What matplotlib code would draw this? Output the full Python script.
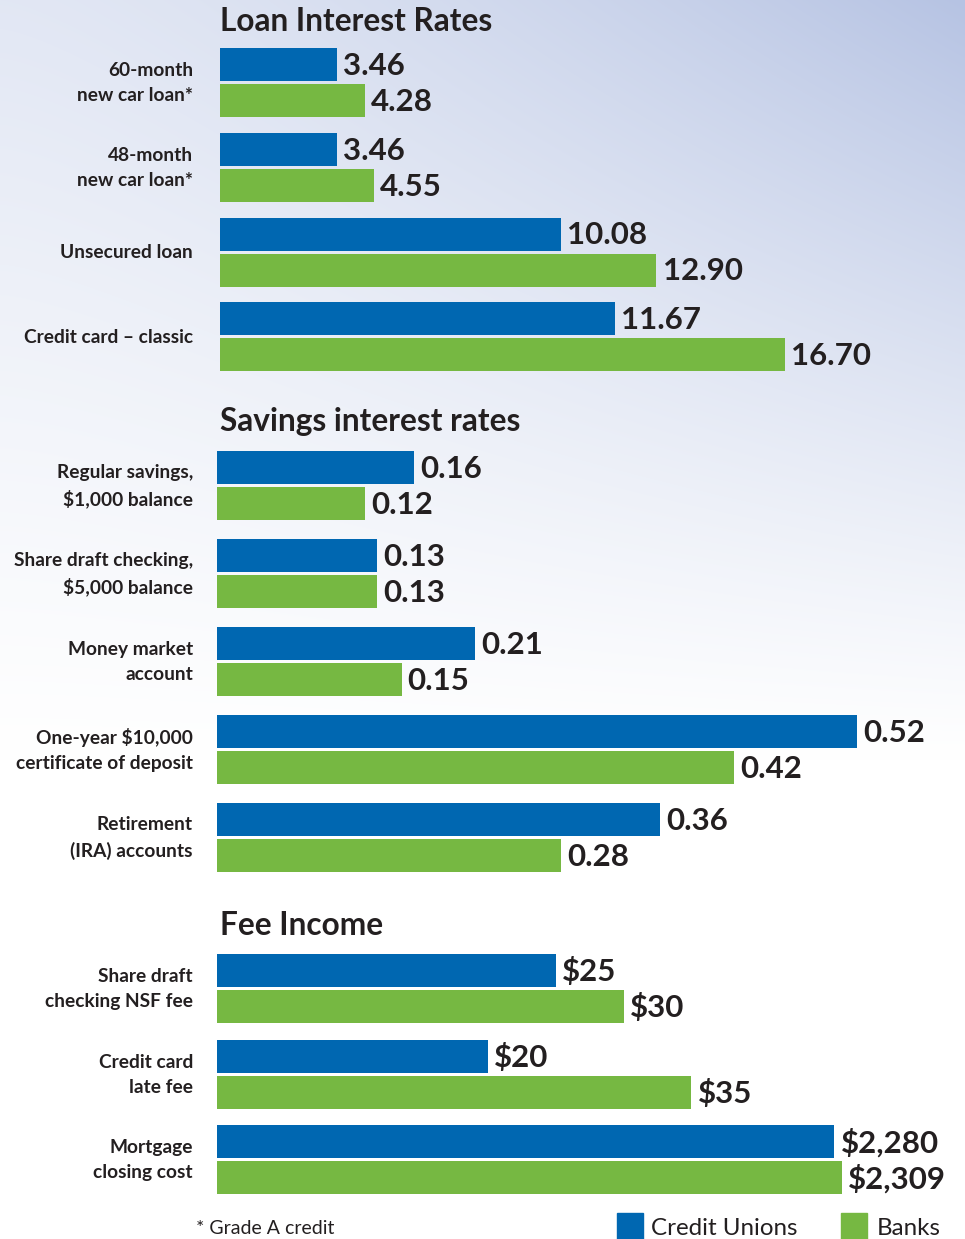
import numpy as np
import matplotlib
matplotlib.use("Agg")
import matplotlib.pyplot as plt

# ---------------- data ----------------
loan_labels = ["60-month\nnew car loan*", "48-month\nnew car loan*",
               "Unsecured loan", "Credit card – classic"]
loan_cu = [3.46, 3.46, 10.08, 11.67]
loan_bank = [4.28, 4.55, 12.90, 16.70]

sav_labels = ["Regular savings,\n\\$1,000 balance", "Share draft checking,\n\\$5,000 balance",
              "Money market\naccount", "One-year \\$10,000\ncertificate of deposit",
              "Retirement\n(IRA) accounts"]
sav_cu = [0.16, 0.13, 0.21, 0.52, 0.36]
sav_bank = [0.12, 0.13, 0.15, 0.42, 0.28]

fee_labels = ["Share draft\nchecking NSF fee", "Credit card\nlate fee"]
fee_cu = [25, 20]
fee_bank = [30, 35]

mort_labels = ["Mortgage\nclosing cost"]
mort_cu = [2280]
mort_bank = [2309]

titles = ["Loan Interest Rates", "Savings interest rates", "Fee Income"]
series_names = ["Credit Unions", "Banks"]
footnote = "* Grade A credit"

# ---------------- style ----------------
W, H, DPI = 965, 1239, 100
BLUE = "#0067b1"
GREEN = "#76b842"
TXT = "#231f20"
FONT = ["Lato", "DejaVu Sans"]
plt.rcParams["font.family"] = FONT

fig = plt.figure(figsize=(W / DPI, H / DPI), dpi=DPI)

# background gradient
bg = fig.add_axes([0, 0, 1, 1])
xx = np.linspace(0, 1, W)[None, :]
yy = np.linspace(0, 1, H)[:, None] * H
horiz = 0.40 + 0.60 * xx ** 1.4
vert = np.clip(1 - yy / 760.0, 0, 1) ** 1.1
t = horiz * vert
blue_bg = np.array([182, 195, 227]) / 255.0
img = 1 - t[..., None] * (1 - blue_bg[None, None, :])
bg.imshow(img, aspect="auto", extent=[0, 1, 0, 1], origin="upper")
bg.set_axis_off()


def px_axes(x0, y_top, x1, y_bot):
    return fig.add_axes([x0 / W, 1 - y_bot / H, (x1 - x0) / W, (y_bot - y_top) / H])


def panel(labels, cu, bank, fmt, x0, scale, c0, pitch, label_gap):
    n = len(labels)
    ax = px_axes(x0, c0 - pitch / 2, W, c0 + (n - 0.5) * pitch)
    ax.set_xlim(0, (W - x0) / scale)
    ax.set_ylim(n - 0.5, -0.5)
    ax.patch.set_alpha(0)
    ax.set_axis_off()
    off = 18.0 / pitch
    hgt = 33.0 / pitch
    idx = np.arange(n)
    bb = ax.barh(idx - off, cu, height=hgt, color=BLUE, linewidth=0)
    bg_ = ax.barh(idx + off, bank, height=hgt, color=GREEN, linewidth=0)
    for bars, vals in ((bb, cu), (bg_, bank)):
        for b, v in zip(bars, vals):
            ax.annotate(fmt(v), xy=(b.get_width(), b.get_y() + b.get_height() / 2),
                        xytext=(4.5, 0.8), textcoords="offset points",
                        ha="left", va="center_baseline", fontsize=22.5,
                        fontweight="bold", color=TXT)
    for i, lab in enumerate(labels):
        ax.annotate(lab, xy=(0, i), xycoords=("axes fraction", "data"),
                    xytext=(-label_gap * 72 / DPI, -0.5), textcoords="offset points",
                    ha="right", va="center", fontsize=13.8, fontweight="bold",
                    color=TXT, linespacing=1.56, multialignment="right")
    return ax


rate_fmt = lambda v: f"{v:.2f}"
money_fmt = lambda v: "\\$" + f"{v:,}"

panel(loan_labels, loan_cu, loan_bank, rate_fmt, 220, 33.83, 82.5, 84.8, 27)
panel(sav_labels, sav_cu, sav_bank, rate_fmt, 217, 1230.0, 485.5, 88.0, 24)
panel(fee_labels, fee_cu, fee_bank, money_fmt, 217, 13.55, 988.5, 85.5, 24)
panel(mort_labels, mort_cu, mort_bank, money_fmt, 217, 0.2707, 1159.5, 85.5, 24)

# titles
for title, base in zip(titles, [31, 431, 935]):
    fig.text(220 / W, 1 - base / H, title, ha="left", va="baseline",
             fontsize=22.8, fontweight="bold", color=TXT)

# footnote
fig.text(196 / W, 1 - 1234 / H, footnote, ha="left", va="baseline",
         fontsize=14, color=TXT)

# legend
for name, color, sx, tx in zip(series_names, [BLUE, GREEN], [617, 841], [651, 877]):
    fig.patches.append(plt.Rectangle((sx / W, 0), 26 / W, 26 / H, color=color,
                                     transform=fig.transFigure, figure=fig))
    fig.text(tx / W, 1 - 1235 / H, name, ha="left", va="baseline",
             fontsize=17.4, color=TXT)

fig.savefig("out.png", dpi=DPI)
